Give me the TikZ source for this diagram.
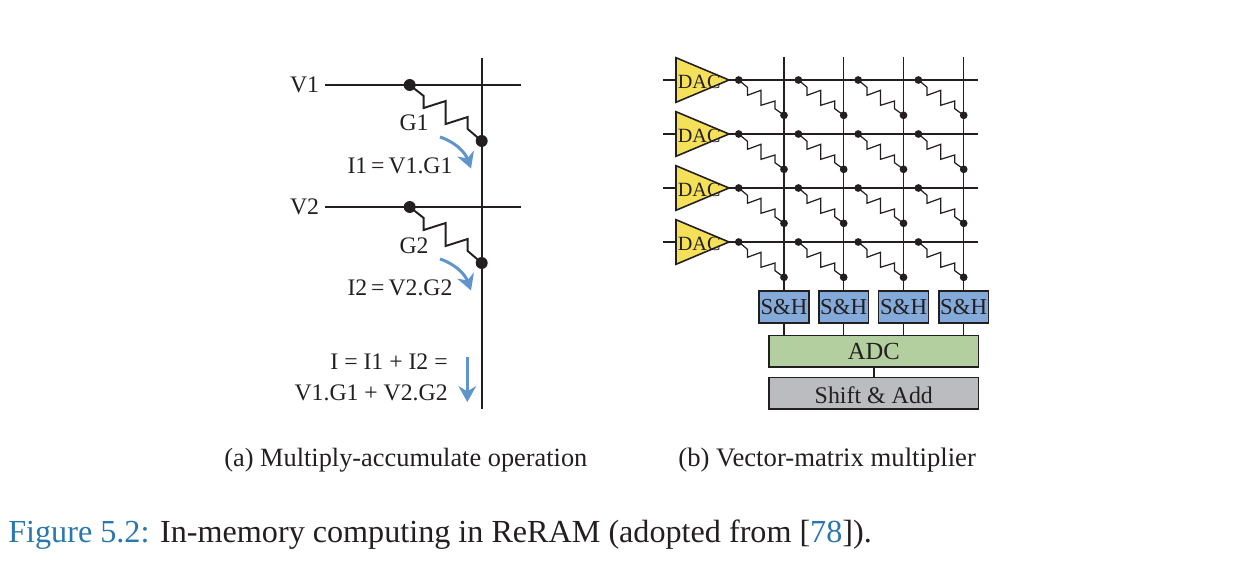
\documentclass[tikz,border=0pt]{standalone}
\usepackage{fontspec}
\setmainfont{Liberation Serif}
\usetikzlibrary{arrows.meta}
\definecolor{capblue}{HTML}{2A76AE}
\definecolor{arrblue}{HTML}{5F95CB}
\definecolor{dacfill}{HTML}{F5E05A}
\definecolor{shfill}{HTML}{84AAD9}
\definecolor{adcfill}{HTML}{B3CF9F}
\definecolor{addfill}{HTML}{BBBCC0}
\definecolor{ink}{HTML}{231F20}
\tikzset{
  wire/.style={draw=ink,line width=1.1pt},
  thin wire/.style={draw=ink,line width=0.8pt},
  bigdot/.style={circle,fill=ink,inner sep=0pt,minimum size=6.8pt},
  smalldot/.style={circle,fill=ink,inner sep=0pt,minimum size=4.4pt},
  lbl/.style={text=ink,inner sep=0pt,font=\fontsize{13.5}{16}\selectfont},
  blk/.style={draw=ink,line width=0.9pt,inner sep=0pt,text=ink,font=\fontsize{13}{15}\selectfont},
  flow/.style={draw=arrblue,line width=1.7pt,-{Stealth[length=9pt,width=10pt]}},
}
\begin{document}
\begin{tikzpicture}[x=0.02cm,y=-0.02cm]
\useasboundingbox (0,0) rectangle (1250,567);
% ---------- left panel
\coordinate (topA) at (481.7,58);
\coordinate (botA) at (481.7,409);
\draw[wire] (topA) -- (botA);
\foreach \n/\yy in {1/85,2/207}{
  \node[lbl] (v\n) at (304.5,\yy-0.5) {V\n};
  \coordinate (ls\n) at (325,\yy);
  \coordinate (le\n) at (521,\yy);
  \draw[wire] (ls\n) -- (le\n);
  \node[bigdot] (a\n) at (409.7,\yy) {};
  \node[bigdot] (b\n) at (481.7,\yy+56) {};
  \draw[wire] (a\n.center) -- ++(14,11) -- ++(0,12) -- ++(22,-7) -- ++(0,23) -- ++(22,-7) -- ++(0,12) -- (b\n.center);
}
\node[lbl] (g1) at (414,122.5) {G1};
\node[lbl] (g2) at (414,245.5) {G2};
\node[lbl] (i1) at (400,166) {I1\,=\,V1.G1};
\node[lbl] (i2) at (400,288) {I2\,=\,V2.G2};
\node[lbl,anchor=east] (sum1) at (448,362) {I = I1 + I2 =};
\node[lbl,anchor=east] (sum2) at (448,393) {V1.G1 + V2.G2};
\foreach \n/\dy in {1/0,2/122}{
  \coordinate (cs\n) at (440,137+\dy);
  \coordinate (ce\n) at (471,168.5+\dy);
  \draw[flow] (cs\n) .. controls (455,142+\dy) and (465,152+\dy) .. (ce\n);
}
\coordinate (fs) at (467.3,357);
\coordinate (fe) at (467.3,402);
\draw[flow] (fs) -- (fe);
% ---------- right panel
\foreach \c/\xx in {1/784,2/843.7,3/903.5,4/963.7}{
  \coordinate (vt\c) at (\xx,57);
  \node[blk,fill=shfill,minimum width=28.3pt,minimum height=18.4pt,inner sep=0pt] (sh\c) at (\xx,307) {S\&H};
  \coordinate (ai\c) at (\xx,335.3);
  \draw[thin wire] (vt\c) -- (sh\c.north);
  \draw[thin wire] (sh\c.south) -- (ai\c);
}
\foreach \r/\yy in {1/80,2/134,3/188,4/242}{
  \coordinate (hs\r) at (663,\yy);
  \coordinate (he\r) at (978,\yy);
  \draw[thin wire] (hs\r) -- (he\r);
  \path[draw=ink,line width=0.9pt,fill=dacfill] (676,\yy-22.3) -- (729,\yy) -- (676,\yy+22.3) -- cycle;
  \node[inner sep=0pt,text=ink,font=\fontsize{11.5}{14}\selectfont,anchor=west] (dac\r) at (677.5,\yy+1.5) {DAC};
  \foreach \c/\xx in {1/784,2/843.7,3/903.5,4/963.7}{
    \node[smalldot] (p\r\c) at (\xx-45.3,\yy) {};
    \node[smalldot] (q\r\c) at (\xx,\yy+35.3) {};
    \draw[draw=ink,line width=0.7pt] (p\r\c.center) -- ++(8.7,7.3) -- ++(0,8) -- ++(13.6,-5) -- ++(0,15) -- ++(14,-4.3) -- ++(0,7.7) -- (q\r\c.center);
  }
}
\node[blk,fill=adcfill,minimum width=119.2pt,minimum height=18.1pt,font=\fontsize{14}{16}\selectfont] (adc) at (873.8,351.3) {ADC};
\node[blk,fill=addfill,minimum width=119.2pt,minimum height=18.1pt,font=\fontsize{13.6}{16}\selectfont] (add) at (873.8,393.3) {\raisebox{-3pt}[6pt][0pt]{Shift \& Add}};
\draw[thin wire] (adc) -- (add);
% ---------- captions
\node[lbl,font=\fontsize{15}{18}\selectfont,anchor=west] (capa) at (224,460.5) {(a) Multiply-accumulate operation};
\node[lbl,font=\fontsize{15.2}{18}\selectfont,anchor=west] (capb) at (678,460.5) {(b) Vector-matrix multiplier};
\node[lbl,font=\fontsize{18.3}{22}\selectfont,anchor=west] (fig) at (8,535) {\textcolor{capblue}{Figure 5.2:} In-memory computing in ReRAM (adopted from [\textcolor{capblue}{78}]).};
\end{tikzpicture}
\end{document}
